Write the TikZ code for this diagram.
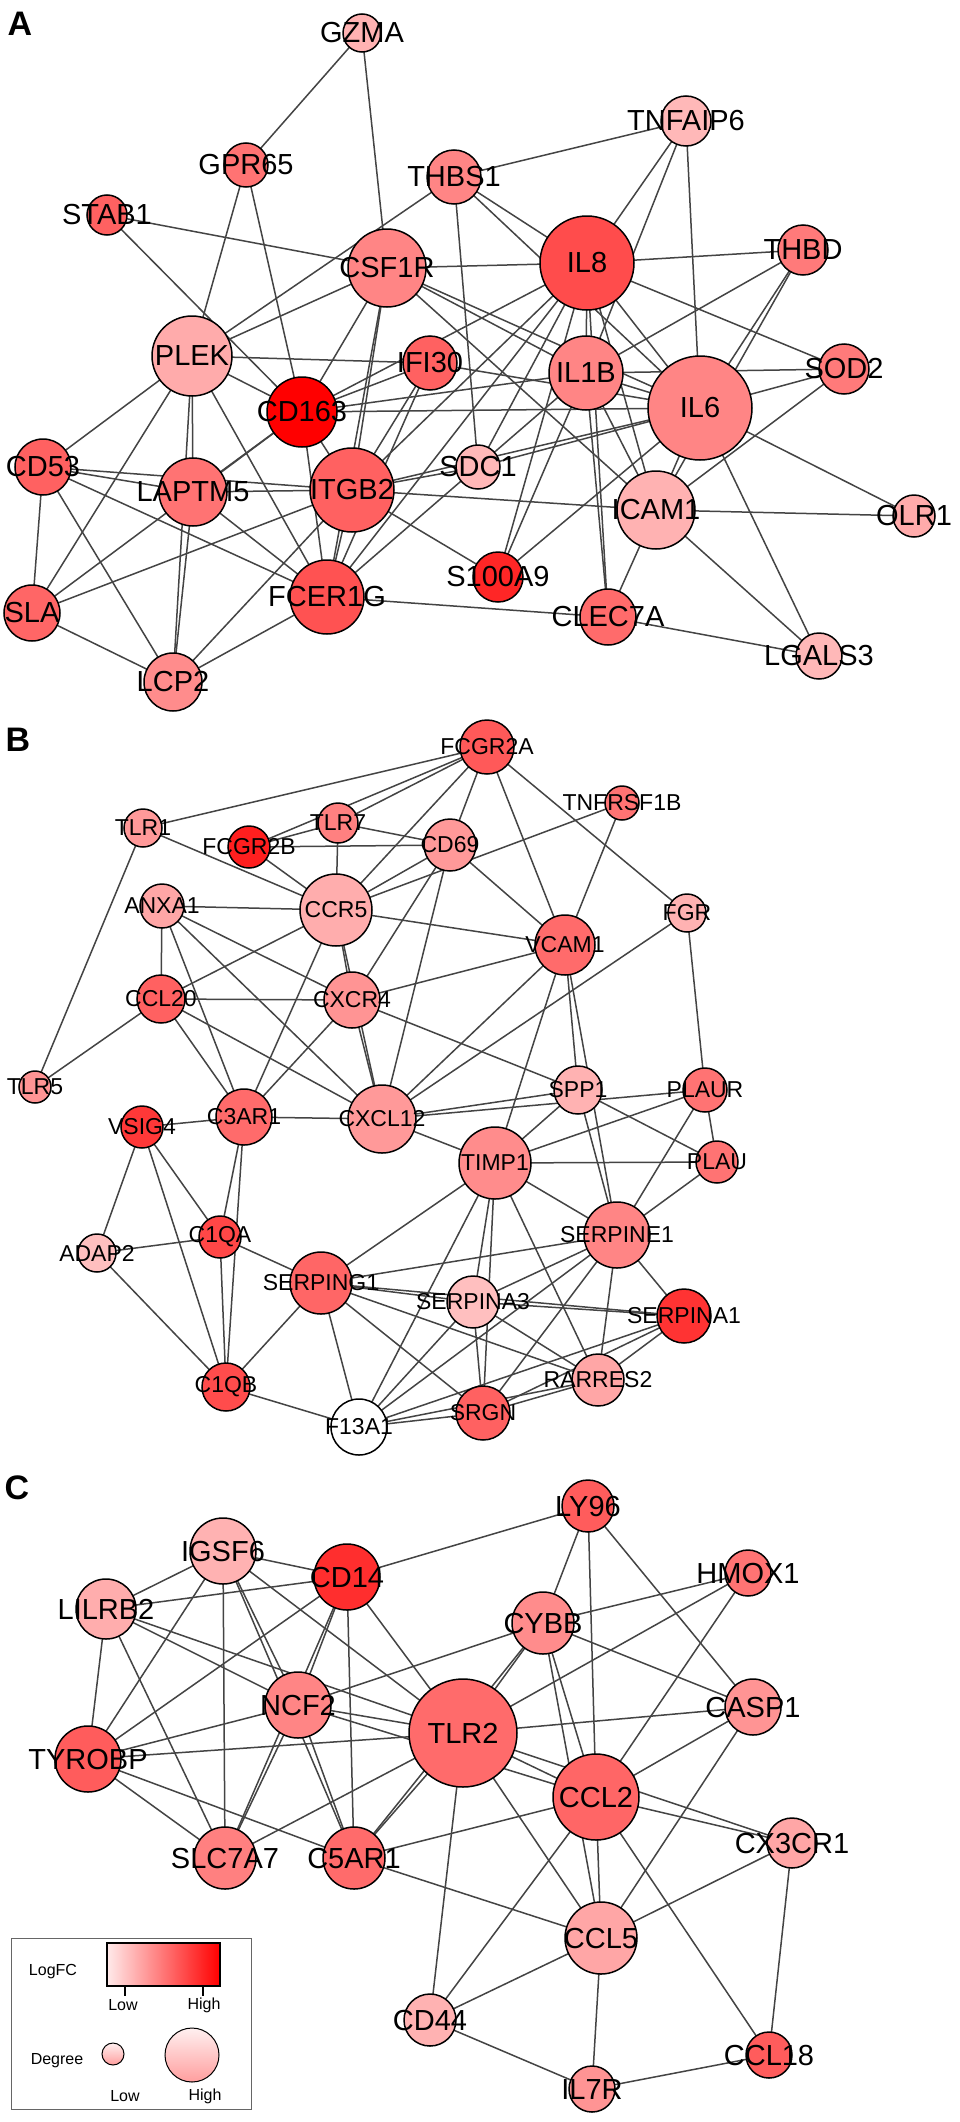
\documentclass[tikz,border=0pt]{standalone}
\usepackage{fontspec}
\setmainfont{Liberation Sans}
\pgfdeclarelayer{bgfill}
\pgfdeclarelayer{edges}
\pgfsetlayers{bgfill,edges,main}
\definecolor{edgecol}{HTML}{444444}
\tikzset{
  gn/.style={circle, draw=black, line width=1.5pt, inner sep=0pt, outer sep=0pt},
  gl/.style={inner sep=0pt, font=\fontsize{29}{29}\selectfont},
  gls/.style={inner sep=0pt, font=\fontsize{23}{23}\selectfont},
  ed/.style={draw=edgecol, line width=1.5pt},
  plabel/.style={inner sep=0pt, font=\fontsize{34}{34}\selectfont\bfseries},
  legtext/.style={inner sep=0pt, font=\fontsize{16}{16}\selectfont},
}
\newcommand\gnode[7]{%
  \node[gn, minimum size={2*#4pt}, fill=red!#5!white] (#1) at (#2,#3) {};
  \node[#7] (#1-t) at (#1) {#6};
}
\begin{document}
\begin{tikzpicture}[x=1pt,y=-1pt]
\useasboundingbox (0,0) rectangle (960,2122);
\begin{pgfonlayer}{bgfill}
\fill[white] (0,0) rectangle (960,2122);
\end{pgfonlayer}

% panel labels
\node[plabel] (labA) at (20,24) {A};
\node[plabel] (labB) at (18,740) {B};
\node[plabel] (labC) at (17,1488) {C};

% ---------- Panel A ----------
\gnode{GZMA}{362}{33}{19}{30}{GZMA}{gl}
\gnode{TNFAIP6}{686}{121}{25}{28}{TNFAIP6}{gl}
\gnode{GPR65}{246}{165}{22}{55}{GPR65}{gl}
\gnode{STAB1}{107}{215}{20}{62}{STAB1}{gl}
\gnode{THBS1}{454}{177}{27}{48}{THBS1}{gl}
\gnode{IL8}{587}{263}{47}{70}{IL8}{gl}
\gnode{THBD}{803}{250}{25}{52}{THBD}{gl}
\gnode{CSF1R}{387}{268}{39}{48}{CSF1R}{gl}
\gnode{PLEK}{192}{356}{40}{33}{PLEK}{gl}
\gnode{IFI30}{430}{363}{27}{62}{IFI30}{gl}
\gnode{CD163}{302}{412}{35}{100}{CD163}{gl}
\gnode{IL1B}{586}{373}{37}{48}{IL1B}{gl}
\gnode{SOD2}{844}{369}{25}{52}{SOD2}{gl}
\gnode{IL6}{700}{408}{52}{48}{IL6}{gl}
\gnode{CD53}{43}{467}{28}{62}{CD53}{gl}
\gnode{LAPTM5}{193}{492}{34}{55}{LAPTM5}{gl}
\gnode{ITGB2}{352}{490}{42}{62}{ITGB2}{gl}
\gnode{SDC1}{478}{467}{22}{28}{SDC1}{gl}
\gnode{ICAM1}{656}{510}{39}{30}{ICAM1}{gl}
\gnode{OLR1}{914}{516}{21}{33}{OLR1}{gl}
\gnode{S100A9}{498}{577}{25}{85}{S100A9}{gl}
\gnode{FCER1G}{327}{597}{37}{68}{FCER1G}{gl}
\gnode{CLEC7A}{608}{617}{28}{58}{CLEC7A}{gl}
\gnode{SLA}{32}{613}{28}{60}{SLA}{gl}
\gnode{LCP2}{173}{682}{29}{45}{LCP2}{gl}
\gnode{LGALS3}{819}{656}{23}{28}{LGALS3}{gl}

% ---------- Panel B ----------
\gnode{FCGR2A}{487}{747}{27}{65}{FCGR2A}{gls}
\gnode{TLR1}{143}{828}{19}{40}{TLR1}{gls}
\gnode{FCGR2B}{249}{847}{21}{88}{FCGR2B}{gls}
\gnode{TLR7}{338}{823}{20}{50}{TLR7}{gls}
\gnode{CD69}{450}{845}{26}{40}{CD69}{gls}
\gnode{TNFRSF1B}{622}{803}{17}{55}{TNFRSF1B}{gls}
\gnode{ANXA1}{162}{906}{22}{35}{ANXA1}{gls}
\gnode{CCR5}{336}{910}{36}{32}{CCR5}{gls}
\gnode{FGR}{687}{913}{19}{30}{FGR}{gls}
\gnode{VCAM1}{565}{945}{30}{58}{VCAM1}{gls}
\gnode{CCL20}{161}{999}{24}{62}{CCL20}{gls}
\gnode{CXCR4}{352}{1000}{28}{42}{CXCR4}{gls}
\gnode{TLR5}{35}{1087}{16}{42}{TLR5}{gls}
\gnode{C3AR1}{244}{1117}{28}{58}{C3AR1}{gls}
\gnode{CXCL12}{382}{1119}{34}{40}{CXCL12}{gls}
\gnode{VSIG4}{142}{1127}{21}{78}{VSIG4}{gls}
\gnode{TIMP1}{495}{1163}{36}{45}{TIMP1}{gls}
\gnode{SPP1}{578}{1090}{24}{30}{SPP1}{gls}
\gnode{PLAUR}{705}{1090}{22}{55}{PLAUR}{gls}
\gnode{PLAU}{717}{1162}{21}{55}{PLAU}{gls}
\gnode{SERPINE1}{617}{1235}{33}{48}{SERPINE1}{gls}
\gnode{C1QA}{220}{1237}{21}{72}{C1QA}{gls}
\gnode{ADAP2}{97}{1253}{19}{25}{ADAP2}{gls}
\gnode{SERPING1}{321}{1283}{31}{60}{SERPING1}{gls}
\gnode{SERPINA3}{473}{1302}{26}{25}{SERPINA3}{gls}
\gnode{SERPINA1}{684}{1316}{27}{80}{SERPINA1}{gls}
\gnode{C1QB}{226}{1387}{24}{70}{C1QB}{gls}
\gnode{F13A1}{359}{1427}{28}{0}{F13A1}{gls}
\gnode{SRGN}{483}{1413}{27}{62}{SRGN}{gls}
\gnode{RARRES2}{598}{1380}{26}{35}{RARRES2}{gls}

% ---------- Panel C ----------
\gnode{IGSF6}{223}{1551}{33}{30}{IGSF6}{gl}
\gnode{CD14}{347}{1577}{33}{82}{CD14}{gl}
\gnode{LILRB2}{106}{1609}{30}{32}{LILRB2}{gl}
\gnode{NCF2}{298}{1705}{33}{48}{NCF2}{gl}
\gnode{TYROBP}{88}{1759}{33}{64}{TYROBP}{gl}
\gnode{TLR2}{463}{1733}{54}{58}{TLR2}{gl}
\gnode{LY96}{588}{1506}{26}{64}{LY96}{gl}
\gnode{HMOX1}{748}{1573}{23}{55}{HMOX1}{gl}
\gnode{CYBB}{543}{1623}{31}{45}{CYBB}{gl}
\gnode{CASP1}{753}{1707}{28}{42}{CASP1}{gl}
\gnode{CCL2}{596}{1797}{43}{60}{CCL2}{gl}
\gnode{SLC7A7}{225}{1858}{31}{50}{SLC7A7}{gl}
\gnode{C5AR1}{354}{1858}{31}{58}{C5AR1}{gl}
\gnode{CD44}{430}{2020}{26}{30}{CD44}{gl}
\gnode{CX3CR1}{792}{1843}{25}{35}{CX3CR1}{gl}
\gnode{CCL5}{601}{1938}{36}{35}{CCL5}{gl}
\gnode{CCL18}{769}{2055}{23}{64}{CCL18}{gl}
\gnode{IL7R}{592}{2089}{23}{42}{IL7R}{gl}

% ---------- edges ----------
\begin{pgfonlayer}{edges}
\foreach \a/\b in {GZMA/GPR65,GZMA/CSF1R,GPR65/PLEK,GPR65/CD163,STAB1/CSF1R,STAB1/CD163,
  THBS1/PLEK,THBS1/SDC1,THBS1/IL8,THBS1/IL6,TNFAIP6/THBS1,TNFAIP6/IL8,TNFAIP6/IL1B,TNFAIP6/IL6,
  IL8/THBD,IL8/SOD2,THBD/IL1B,THBD/IL6,THBD/ICAM1,IL1B/SOD2,IL6/SOD2,SOD2/ICAM1,IL6/OLR1,IL6/LGALS3,
  IL8/IL1B,IL8/CLEC7A,IL1B/CLEC7A,IL8/IL6,IL1B/IL6,IL1B/ICAM1,CSF1R/IL8,CSF1R/IL1B,CSF1R/IL6,CSF1R/ICAM1,
  CD163/IL1B,CD163/IL6,SDC1/IL6,ITGB2/IL6,IL8/S100A9,IL1B/S100A9,IL6/S100A9,ITGB2/ICAM1,ICAM1/CLEC7A,
  ICAM1/LGALS3,ICAM1/OLR1,CLEC7A/LGALS3,FCER1G/CLEC7A,PLEK/CSF1R,PLEK/IFI30,PLEK/CD163,PLEK/CD53,
  PLEK/LAPTM5,PLEK/LCP2,PLEK/SLA,PLEK/FCER1G,CSF1R/CD163,CSF1R/ITGB2,CSF1R/FCER1G,CD163/IFI30,CD163/IL8,
  IFI30/IL6,IFI30/ITGB2,IFI30/FCER1G,CD163/ITGB2,CD163/LAPTM5,CD163/FCER1G,SLA/CD163,CD53/SLA,CD53/LCP2,
  CD53/FCER1G,CD53/LAPTM5,CD53/ITGB2,SLA/ITGB2,SLA/LCP2,LAPTM5/LCP2,LAPTM5/FCER1G,LAPTM5/ITGB2,
  LCP2/ITGB2,LCP2/FCER1G,ITGB2/FCER1G,ITGB2/S100A9,IL8/FCER1G,IL1B/FCER1G,IL8/SDC1,ITGB2/IL8,IL8/ICAM1,
  ITGB2/SDC1,IL6/ICAM1}
  \draw[ed] (\a.center) -- (\b.center);
\foreach \a/\b in {TLR1/FCGR2A,TLR1/CCR5,TLR1/TLR5,FCGR2B/TLR7,FCGR2B/FCGR2A,TLR7/FCGR2A,FCGR2B/CD69,
  FCGR2B/CCR5,TLR7/CD69,TLR7/CCR5,CCR5/FCGR2A,CCR5/CD69,CCR5/TNFRSF1B,CCR5/VCAM1,CCR5/CCL20,CCR5/C3AR1,
  CCR5/CXCR4,CCR5/CXCL12,CD69/FCGR2A,CD69/CXCL12,CD69/CXCR4,CD69/VCAM1,ANXA1/CCR5,ANXA1/CCL20,
  ANXA1/C3AR1,ANXA1/CXCL12,ANXA1/CXCR4,FCGR2A/FGR,FCGR2A/VCAM1,TNFRSF1B/VCAM1,FGR/CXCL12,FGR/PLAUR,
  CXCR4/VCAM1,CXCR4/SPP1,CXCR4/CXCL12,CXCR4/C3AR1,CCL20/CXCR4,VCAM1/CXCL12,VCAM1/TIMP1,VCAM1/SPP1,
  VCAM1/SERPINE1,SPP1/SERPINE1,CXCL12/SPP1,CXCL12/PLAUR,TIMP1/SPP1,TIMP1/PLAUR,TIMP1/PLAU,SPP1/PLAU,
  PLAUR/PLAU,PLAUR/SERPINE1,PLAU/SERPINE1,TIMP1/SERPINE1,CCL20/TLR5,CCL20/C3AR1,CCL20/CXCL12,
  CXCL12/TIMP1,C3AR1/CXCL12,C3AR1/VSIG4,C3AR1/C1QA,C3AR1/C1QB,VSIG4/ADAP2,VSIG4/C1QB,VSIG4/C1QA,
  TIMP1/SERPING1,TIMP1/F13A1,ADAP2/C1QA,ADAP2/C1QB,C1QA/C1QB,C1QA/SERPING1,C1QB/SERPING1,C1QB/F13A1,
  SERPING1/F13A1,SERPING1/SERPINA3,SERPING1/SERPINA1,SERPINA3/SERPINA1,SERPING1/SERPINE1,
  SERPING1/RARRES2,SERPING1/SRGN,F13A1/SERPINA3,F13A1/SERPINE1,F13A1/SRGN,F13A1/RARRES2,F13A1/SERPINA1,
  SERPINA3/SRGN,SERPINE1/SERPINA1,SERPINE1/RARRES2,SERPINE1/SRGN,SERPINE1/SERPINA3,TIMP1/RARRES2,
  TIMP1/SRGN,TIMP1/SERPINA3,SERPINA3/RARRES2,SERPINA1/RARRES2,SERPINA1/SRGN,SRGN/RARRES2}
  \draw[ed] (\a.center) -- (\b.center);
\foreach \a/\b in {IGSF6/CD14,IGSF6/LILRB2,LILRB2/CD14,CD14/LY96,IGSF6/TYROBP,IGSF6/SLC7A7,IGSF6/NCF2,
  IGSF6/C5AR1,IGSF6/TLR2,LILRB2/NCF2,LILRB2/TLR2,LILRB2/TYROBP,LILRB2/SLC7A7,CD14/TYROBP,CD14/NCF2,
  CD14/C5AR1,CD14/TLR2,CD14/SLC7A7,NCF2/TYROBP,TYROBP/TLR2,NCF2/TLR2,NCF2/CYBB,NCF2/SLC7A7,NCF2/C5AR1,
  NCF2/CCL2,TYROBP/SLC7A7,TYROBP/C5AR1,SLC7A7/TLR2,TLR2/C5AR1,C5AR1/CCL2,C5AR1/CCL5,TLR2/CD44,CD44/CCL2,
  CD44/CCL5,CD44/IL7R,LY96/CYBB,LY96/CCL2,LY96/CASP1,HMOX1/CYBB,HMOX1/TLR2,HMOX1/CCL2,CYBB/TLR2,
  CYBB/C5AR1,CYBB/CCL2,CYBB/CCL5,CYBB/CASP1,TLR2/CASP1,TLR2/CCL2,TLR2/CX3CR1,TLR2/CCL5,CASP1/CCL2,
  CASP1/CCL5,CCL2/CX3CR1,CCL2/CCL5,CCL2/CCL18,CCL5/CX3CR1,CCL5/IL7R,CX3CR1/CCL18,CCL18/IL7R}
  \draw[ed] (\a.center) -- (\b.center);
\end{pgfonlayer}

% ---------- legend ----------
\draw[draw=black!60, line width=1pt] (11,1938) rectangle (251,2109);
\node[legtext] (legLogFC) at (53,1972) {LogFC};
\shade[left color=red!8!white, right color=red] (107,1943) rectangle (220,1986);
\draw[black, line width=1.3pt] (107,1943) rectangle (220,1986);
\draw[black, line width=1.3pt] (125,1986) -- (125,1996);
\draw[black, line width=1.3pt] (203,1986) -- (203,1996);
\node[legtext] (legLow1) at (123,2005) {Low};
\node[legtext] (legHigh1) at (204,2005) {High};
\node[legtext] (legDeg) at (57,2061) {Degree};
\node[circle, draw=black, line width=1pt, minimum size=22pt, inner sep=0pt, top color=red!6!white, bottom color=red!38!white] (legSmall) at (113,2054) {};
\node[circle, draw=black, line width=1pt, minimum size=54pt, inner sep=0pt, top color=red!6!white, bottom color=red!38!white] (legBig) at (192,2055) {};
\node[legtext] (legLow2) at (125,2096) {Low};
\node[legtext] (legHigh2) at (205,2096) {High};
\end{tikzpicture}
\end{document}
